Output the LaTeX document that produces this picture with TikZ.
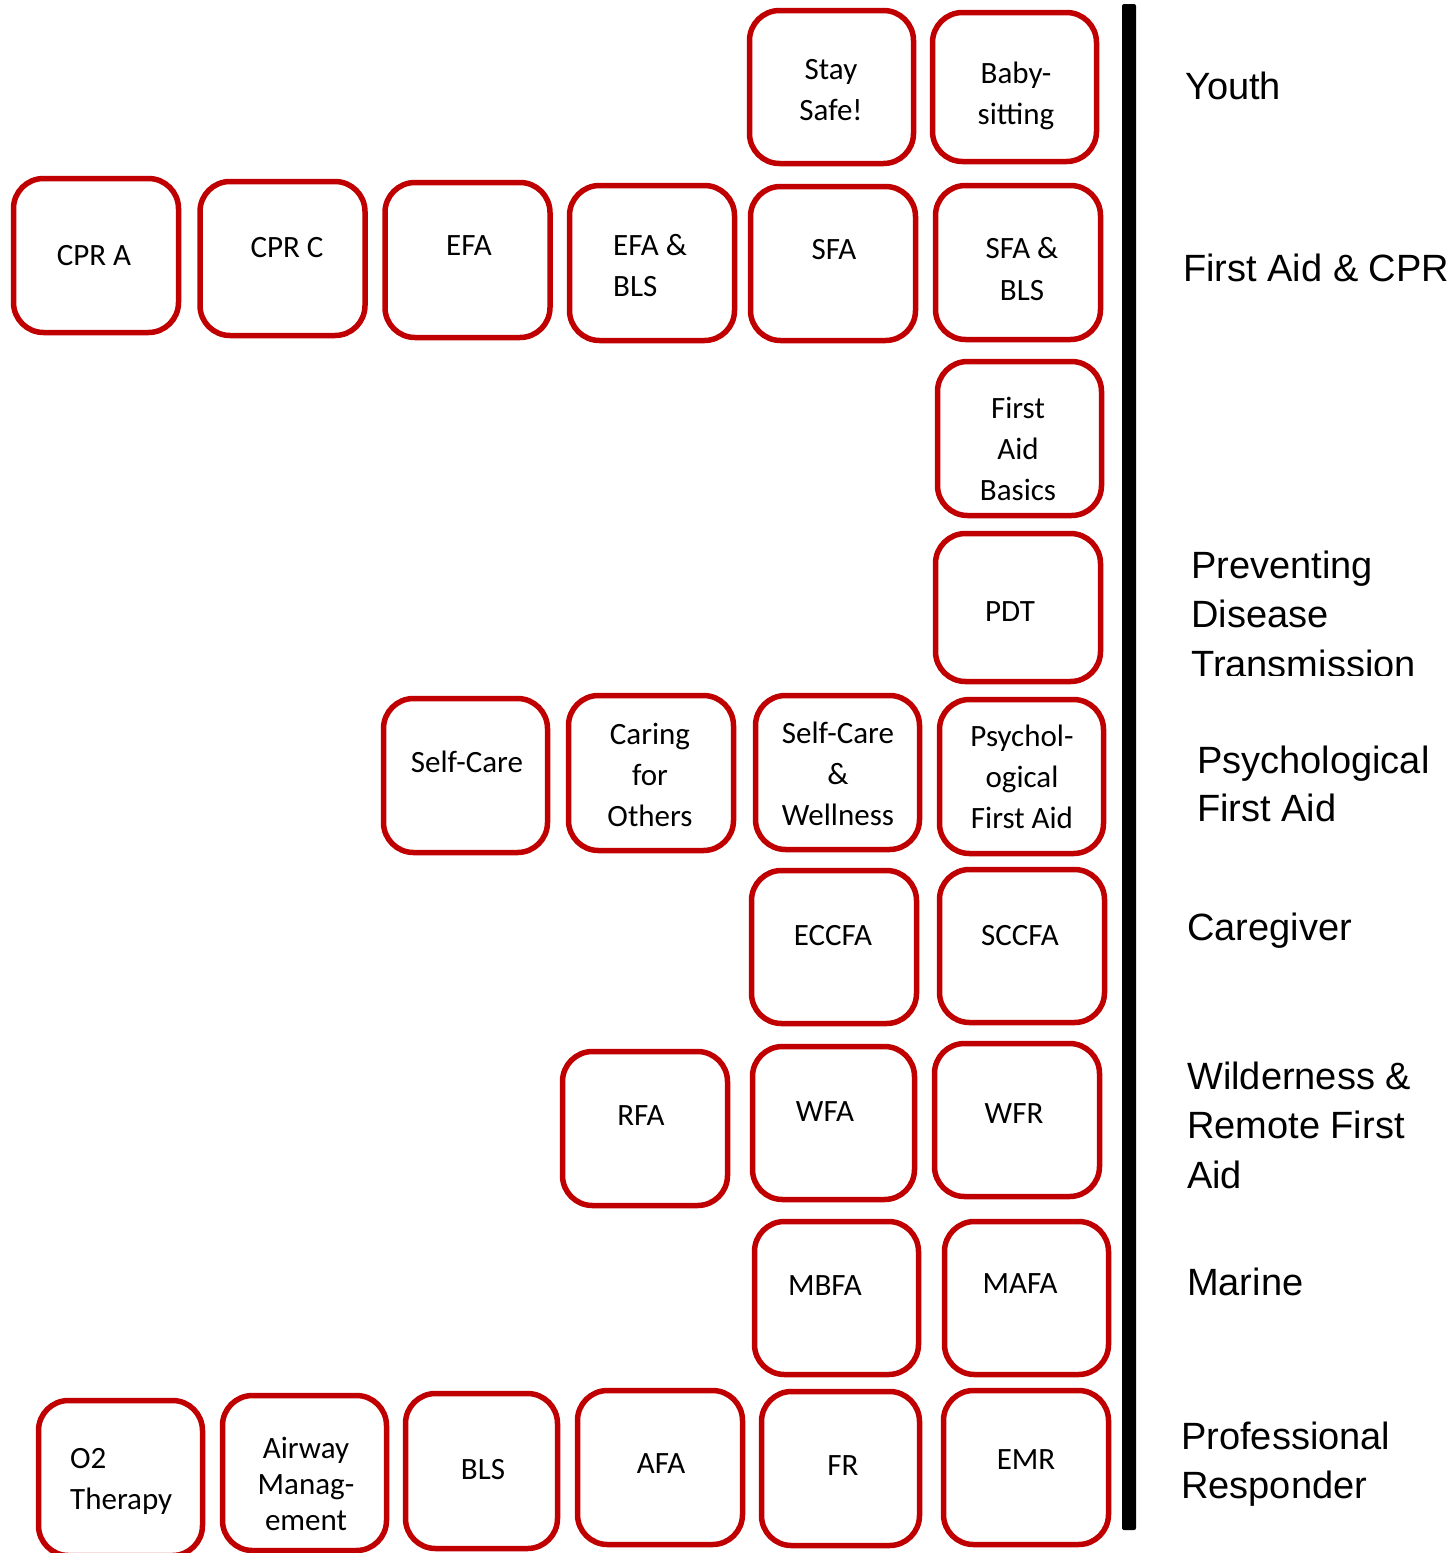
\documentclass[tikz,border=0pt]{standalone}
\usepackage{fontspec}
\setmainfont{Carlito}
\newfontfamily\lblfont{Liberation Sans}
\definecolor{boxred}{HTML}{C00000}
\begin{document}
\begin{tikzpicture}[x=1pt,y=-1pt,
  course/.style={draw=boxred,line width=5.5pt,rounded corners=30pt,minimum width=165pt,minimum height=154pt,inner sep=0pt},
  ctext/.style={font=\fontsize{31}{41}\selectfont,align=center,inner sep=0pt},
  cat/.style={font=\lblfont\fontsize{38}{49.5}\selectfont,align=left,anchor=west,inner sep=0pt},
  bar/.style={fill=black,rounded corners=2pt}]
\useasboundingbox (0,0) rectangle (1454,1553);
\fill[white] (0,0) rectangle (1454,1553);
% boxes
\node[course,minimum width=164pt,minimum height=153pt] (staysafe) at (831.5,87) {};
\node[course,minimum width=164pt,minimum height=149pt] (baby) at (1014.5,87) {};
\node[course] (cpra) at (96,255.5) {};
\node[course] (cprc) at (282.5,258.5) {};
\node[course,minimum height=155pt] (efa) at (467.5,260) {};
\node[course,minimum height=155pt] (efabls) at (652,263) {};
\node[course] (sfa) at (833,263.5) {};
\node[course] (sfabls) at (1018,262.5) {};
\node[course,minimum width=164pt] (fab) at (1019.5,438.5) {};
\node[course,minimum height=148pt] (pdt) at (1018,607.5) {};
\node[course,minimum width=164pt] (selfcare) at (465.5,775.5) {};
\node[course,minimum height=155pt] (caring) at (651,773) {};
\node[course,minimum width=164pt] (scw) at (837.5,772.5) {};
\node[course,minimum width=164pt] (pfa) at (1021.5,776.5) {};
\node[course,minimum height=153pt] (eccfa) at (834,947) {};
\node[course,minimum height=153pt] (sccfa) at (1022,946) {};
\node[course] (rfa) at (645,1128.5) {};
\node[course,minimum width=162pt,minimum height=153pt] (wfa) at (833.5,1123) {};
\node[course,minimum height=153pt] (wfr) at (1017,1120) {};
\node[course,minimum width=164pt,minimum height=153pt] (mbfa) at (836.5,1298) {};
\node[course,minimum width=164pt,minimum height=153pt] (mafa) at (1026.5,1298) {};
\node[course,minimum width=164pt,minimum height=155pt] (otwo) at (120.5,1478) {};
\node[course,minimum width=164pt,minimum height=155pt] (airway) at (304.5,1473) {};
\node[course,minimum width=152pt,minimum height=155pt] (bls) at (481.5,1471) {};
\node[course] (afa) at (660,1467.5) {};
\node[course,minimum width=158pt] (fr) at (840.5,1468.5) {};
\node[course] (emr) at (1026,1467.5) {};
% box texts
\node[ctext] (tstaysafe) at (831,90) {Stay\\Safe!};
\node[ctext] (tbaby) at (1016,96) {Baby-\\sitting};
\node[ctext] (tcpra) at (94,256) {CPR A};
\node[ctext] (tcprc) at (287,248) {CPR C};
\node[ctext] (tefa) at (469,246) {EFA};
\node[ctext,align=left,anchor=west] (tefabls) at (613,266) {EFA \&\\BLS};
\node[ctext] (tsfa) at (834,250) {SFA};
\node[ctext,font=\fontsize{31}{42}\selectfont] (tsfabls) at (1022,269) {SFA \&\\BLS};
\node[ctext] (tfab) at (1018,449) {First\\Aid\\Basics};
\node[ctext] (tpdt) at (1010,612) {PDT};
\node[ctext] (tselfcare) at (467,762) {Self-Care};
\node[ctext] (tcaring) at (650,775) {Caring\\for\\Others};
\node[ctext] (tscw) at (838,774) {Self-Care\\\&\\Wellness};
\node[ctext] (tpfa) at (1022,777) {Psychol-\\ogical\\First Aid};
\node[ctext] (teccfa) at (833,936) {ECCFA};
\node[ctext] (tsccfa) at (1020,936) {SCCFA};
\node[ctext] (trfa) at (641,1116) {RFA};
\node[ctext] (twfa) at (825,1112) {WFA};
\node[ctext] (twfr) at (1014,1114) {WFR};
\node[ctext] (tmbfa) at (825,1286) {MBFA};
\node[ctext] (tmafa) at (1020,1284) {MAFA};
\node[ctext,align=left,anchor=west] (totwo) at (70,1481) {O2\\Therapy};
\node[ctext,font=\fontsize{31}{36}\selectfont] (tairway) at (306,1484) {Airway\\Manag-\\ement};
\node[ctext] (tbls) at (483,1470) {BLS};
\node[ctext] (tafa) at (661,1464) {AFA};
\node[ctext] (tfr) at (843,1466) {FR};
\node[ctext] (temr) at (1026,1460) {EMR};
% vertical bar
\path[bar] (1122,4) rectangle (1136,1530);
\coordinate (bartop) at (1129,4);
% category labels
\node[cat] (lyouth) at (1185,86) {Youth};
\node[cat] (lfacpr) at (1183,268) {First Aid \& CPR};
\begin{scope}
\clip (1150,520) rectangle (1454,675);
\node[cat] (lpdt) at (1191,614) {Preventing\\Disease\\Transmission};
\end{scope}
\node[cat,font=\lblfont\fontsize{38}{48}\selectfont] (lpsy) at (1197,784) {Psychological\\First Aid};
\node[cat] (lcare) at (1187,931) {Caregiver};
\node[cat] (lwild) at (1187,1125) {Wilderness \&\\Remote First\\Aid};
\node[cat] (lmarine) at (1187,1282) {Marine};
\node[cat] (lpro) at (1181,1464) {Professional\\Responder};
\end{tikzpicture}
\end{document}
